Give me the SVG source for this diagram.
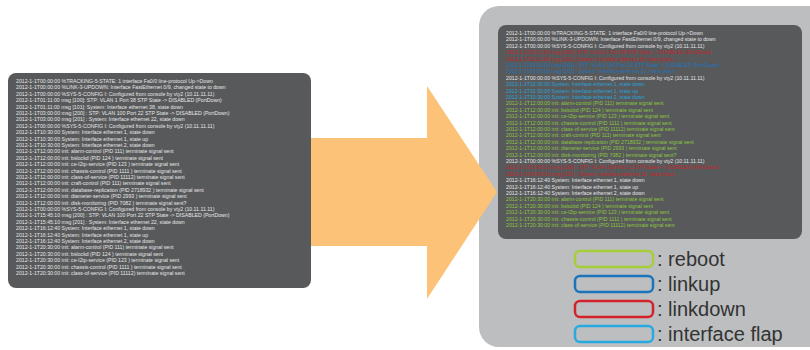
<svg xmlns="http://www.w3.org/2000/svg" width="810" height="350" viewBox="0 0 810 350">
  <style>
    .console { fill: #58595b; }
    .log { font-family: "Liberation Sans", Arial, sans-serif; font-size: 5.2px; fill: #e6e7e8; }
    .w { fill: #e6e7e8; }
    .r { fill: #c1272d; }
    .b { fill: #1c75bc; }
    .c { fill: #27a3d9; }
    .g { fill: #8dc63f; }
    .key { fill: #bcbec0; stroke-width: 2.5; }
    .keytext { font-family: "Liberation Sans", Arial, sans-serif; font-size: 20px; fill: #333333; }
  </style>
  <rect width="810" height="350" fill="#ffffff"/>

  <!-- raw log console -->
  <g id="raw-log">
    <rect class="console" x="8" y="73" width="303" height="215" rx="8"/>
    <text class="log" x="16" y="83">
      <tspan x="16" dy="0">2012-1-1T00:00:00 %TRACKING-5-STATE: 1 interface Fa0/0 line-protocol Up-&gt;Down</tspan>
      <tspan x="16" dy="6.4">2012-1-1T00:00:00 %LINK-3-UPDOWN: Interface FastEthernet 0/9, changed state to down</tspan>
      <tspan x="16" dy="6.4">2012-1-1T00:00:00 %SYS-5-CONFIG I: Configured from console by vty2 (10.11.11.11)</tspan>
      <tspan x="16" dy="6.4">2012-1-1T01:11:00 msg [100]:  STP: VLAN 1 Port 38 STP State -&gt; DISABLED (PortDown)</tspan>
      <tspan x="16" dy="6.4">2012-1-1T01:11:00 msg [101]: System: Interface ethernet 38, state down</tspan>
      <tspan x="16" dy="6.4">2012-1-1T03:00:00 msg [200] : STP: VLAN 100 Port 22 STP State -&gt; DISABLED (PortDown)</tspan>
      <tspan x="16" dy="6.4">2012-1-1T03:00:00 msg [201] : System: Interface ethernet 22, state down</tspan>
      <tspan x="16" dy="6.4">2012-1-1T00:00:00 %SYS-5-CONFIG I: Configured from console by vty2 (10.11.11.11)</tspan>
      <tspan x="16" dy="6.4">2012-1-1T10:30:00 System: Interface ethernet 1, state down</tspan>
      <tspan x="16" dy="6.4">2012-1-1T10:30:00 System: Interface ethernet 1, state up</tspan>
      <tspan x="16" dy="6.4">2012-1-1T10:30:00 System: Interface ethernet 2, state down</tspan>
      <tspan x="16" dy="6.4">2012-1-1T12:00:00 init: alarm-control (PID 111) terminate signal sent</tspan>
      <tspan x="16" dy="6.4">2012-1-1T12:00:00 init: bslockd (PID 124 ) terminate signal sent</tspan>
      <tspan x="16" dy="6.4">2012-1-1T12:00:00 init: ce-l2tp-service (PID 123 ) terminate signal sent</tspan>
      <tspan x="16" dy="6.4">2012-1-1T12:00:00 init: chassis-control (PID 1111 ) terminate signal sent</tspan>
      <tspan x="16" dy="6.4">2012-1-1T12:00:00 init: class-of-service (PID 11112)  terminate signal sent</tspan>
      <tspan x="16" dy="6.4">2012-1-1T12:00:00 init: craft-control (PID 111) terminate signal sent</tspan>
      <tspan x="16" dy="6.4">2012-1-1T12:00:00 init: database-replication (PID 2718932 ) terminate signal sent</tspan>
      <tspan x="16" dy="6.4">2012-1-1T12:00:00 init: diameter-service (PID 2993 ) terminate signal sent</tspan>
      <tspan x="16" dy="6.4">2012-1-1T12:00:00 init: disk-monitoring (PID 7082 ) terminate signal sent?</tspan>
      <tspan x="16" dy="6.4">2012-1-1T00:00:00 %SYS-5-CONFIG I: Configured from console by vty2 (10.11.11.11)</tspan>
      <tspan x="16" dy="6.4">2012-1-1T15:45:10 msg [200] : STP: VLAN 100 Port 22 STP State -&gt; DISABLED (PortDown)</tspan>
      <tspan x="16" dy="6.4">2012-1-1T15:45:10 msg [201] : System: Interface ethernet 22, state down</tspan>
      <tspan x="16" dy="6.4">2012-1-1T16:12:40 System: Interface ethernet 1, state down</tspan>
      <tspan x="16" dy="6.4">2012-1-1T16:12:40 System: Interface ethernet 1, state up</tspan>
      <tspan x="16" dy="6.4">2012-1-1T16:12:40 System: Interface ethernet 2, state down</tspan>
      <tspan x="16" dy="6.4">2012-1-1T20:30:00 init: alarm-control (PID 111) terminate signal sent</tspan>
      <tspan x="16" dy="6.4">2012-1-1T20:30:00 init: bslockd (PID 124 ) terminate signal sent</tspan>
      <tspan x="16" dy="6.4">2012-1-1T20:30:00 init: ce-l2tp-service (PID 123 ) terminate signal sent</tspan>
      <tspan x="16" dy="6.4">2012-1-1T20:30:00 init: chassis-control (PID 1111 ) terminate signal sent</tspan>
      <tspan x="16" dy="6.4">2012-1-1T20:30:00 init: class-of-service (PID 11112)  terminate signal sent</tspan>
    </text>
  </g>

  <!-- classified result panel -->
  <g id="classified-panel">
    <rect x="479" y="6" width="360" height="341" rx="20" fill="#bcbec0"/>
  </g>

  <g id="classified-log">
    <rect class="console" x="498" y="25" width="304" height="214" rx="8"/>
    <text class="log" x="506" y="35">
      <tspan class="w" x="506" dy="0">2012-1-1T00:00:00 %TRACKING-5-STATE: 1 interface Fa0/0 line-protocol Up-&gt;Down</tspan>
      <tspan class="w" x="506" dy="6.4">2012-1-1T00:00:00 %LINK-3-UPDOWN: Interface FastEthernet 0/9, changed state to down</tspan>
      <tspan class="w" x="506" dy="6.4">2012-1-1T00:00:00 %SYS-5-CONFIG I: Configured from console by vty2 (10.11.11.11)</tspan>
      <tspan class="r" x="506" dy="6.4">2012-1-1T01:11:00 msg [100]:  STP: VLAN 1 Port 38 STP State -&gt; DISABLED (PortDown)</tspan>
      <tspan class="r" x="506" dy="6.4">2012-1-1T01:11:00 msg [101]: System: Interface ethernet 38, state down</tspan>
      <tspan class="b" x="506" dy="6.4">2012-1-1T03:00:00 msg [200] : STP: VLAN 100 Port 22 STP State -&gt; DISABLED (PortDown)</tspan>
      <tspan class="b" x="506" dy="6.4">2012-1-1T03:00:00 msg [201] : System: Interface ethernet 22, state down</tspan>
      <tspan class="w" x="506" dy="6.4">2012-1-1T00:00:00 %SYS-5-CONFIG I: Configured from console by vty2 (10.11.11.11)</tspan>
      <tspan class="c" x="506" dy="6.4">2012-1-1T10:30:00 System: Interface ethernet 1, state down</tspan>
      <tspan class="c" x="506" dy="6.4">2012-1-1T10:30:00 System: Interface ethernet 1, state up</tspan>
      <tspan class="c" x="506" dy="6.4">2012-1-1T10:30:00 System: Interface ethernet 2, state down</tspan>
      <tspan class="g" x="506" dy="6.4">2012-1-1T12:00:00 init: alarm-control (PID 111) terminate signal sent</tspan>
      <tspan class="g" x="506" dy="6.4">2012-1-1T12:00:00 init: bslockd (PID 124 ) terminate signal sent</tspan>
      <tspan class="g" x="506" dy="6.4">2012-1-1T12:00:00 init: ce-l2tp-service (PID 123 ) terminate signal sent</tspan>
      <tspan class="g" x="506" dy="6.4">2012-1-1T12:00:00 init: chassis-control (PID 1111 ) terminate signal sent</tspan>
      <tspan class="g" x="506" dy="6.4">2012-1-1T12:00:00 init: class-of-service (PID 11112)  terminate signal sent</tspan>
      <tspan class="g" x="506" dy="6.4">2012-1-1T12:00:00 init: craft-control (PID 111) terminate signal sent</tspan>
      <tspan class="g" x="506" dy="6.4">2012-1-1T12:00:00 init: database-replication (PID 2718932 ) terminate signal sent</tspan>
      <tspan class="g" x="506" dy="6.4">2012-1-1T12:00:00 init: diameter-service (PID 2993 ) terminate signal sent</tspan>
      <tspan class="g" x="506" dy="6.4">2012-1-1T12:00:00 init: disk-monitoring (PID 7082 ) terminate signal sent?</tspan>
      <tspan class="w" x="506" dy="6.4">2012-1-1T00:00:00 %SYS-5-CONFIG I: Configured from console by vty2 (10.11.11.11)</tspan>
      <tspan class="r" x="506" dy="6.4">2012-1-1T15:45:10 msg [200] : STP: VLAN 100 Port 22 STP State -&gt; DISABLED (PortDown)</tspan>
      <tspan class="r" x="506" dy="6.4">2012-1-1T15:45:10 msg [201] : System: Interface ethernet 22, state down</tspan>
      <tspan class="w" x="506" dy="6.4">2012-1-1T16:12:40 System: Interface ethernet 1, state down</tspan>
      <tspan class="w" x="506" dy="6.4">2012-1-1T16:12:40 System: Interface ethernet 1, state up</tspan>
      <tspan class="w" x="506" dy="6.4">2012-1-1T16:12:40 System: Interface ethernet 2, state down</tspan>
      <tspan class="g" x="506" dy="6.4">2012-1-1T20:30:00 init: alarm-control (PID 111) terminate signal sent</tspan>
      <tspan class="g" x="506" dy="6.4">2012-1-1T20:30:00 init: bslockd (PID 124 ) terminate signal sent</tspan>
      <tspan class="g" x="506" dy="6.4">2012-1-1T20:30:00 init: ce-l2tp-service (PID 123 ) terminate signal sent</tspan>
      <tspan class="g" x="506" dy="6.4">2012-1-1T20:30:00 init: chassis-control (PID 1111 ) terminate signal sent</tspan>
      <tspan class="g" x="506" dy="6.4">2012-1-1T20:30:00 init: class-of-service (PID 11112)  terminate signal sent</tspan>
    </text>
  </g>

  <!-- legend -->
  <g id="legend-reboot">
    <rect class="key" x="575" y="251" width="78" height="16" rx="5" stroke="#a6ce39"/>
    <text class="keytext" x="657" y="266">: reboot</text>
  </g>
  <g id="legend-linkup">
    <rect class="key" x="575" y="276" width="78" height="16" rx="5" stroke="#1c75bc"/>
    <text class="keytext" x="657" y="291">: linkup</text>
  </g>
  <g id="legend-linkdown">
    <rect class="key" x="575" y="301" width="78" height="16" rx="5" stroke="#d2232a"/>
    <text class="keytext" x="657" y="316">: linkdown</text>
  </g>
  <g id="legend-interface-flap">
    <rect class="key" x="575" y="326" width="78" height="16" rx="5" stroke="#27aae1"/>
    <text class="keytext" x="657" y="341">: interface flap</text>
  </g>

  <!-- transformation arrow -->
  <g id="connectors">
    <polygon points="311,138 427,138 427,86 497,192 427,299 427,246 311,246" fill="#fcc278"/>
  </g>
</svg>
